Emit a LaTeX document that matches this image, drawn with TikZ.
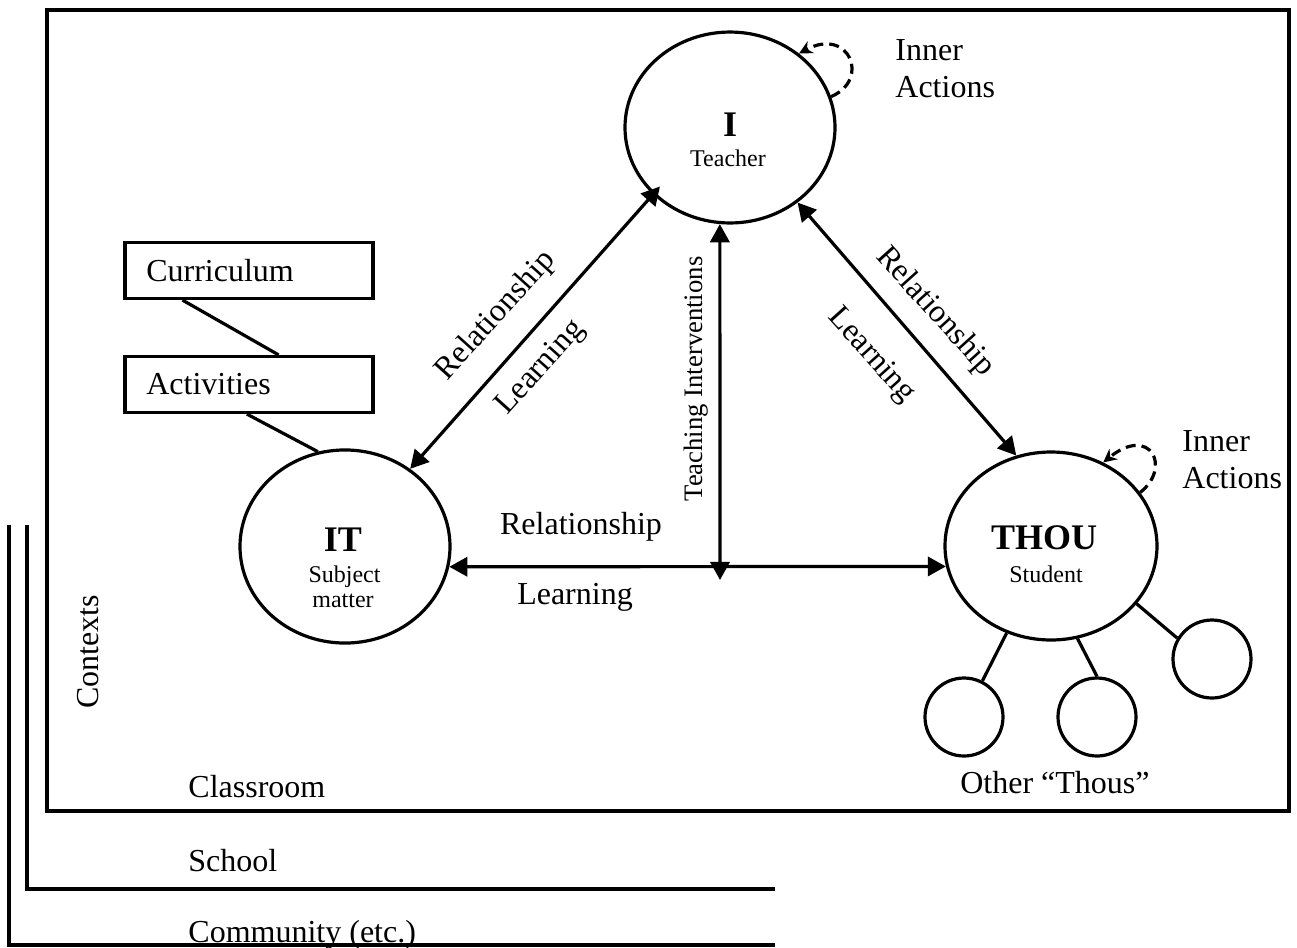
\documentclass[tikz,border=0pt]{standalone}
\usepackage{fontspec}
\setmainfont{Liberation Serif}
\usetikzlibrary{arrows.meta,shapes.geometric}
\tikzset{
  actor/.style={ellipse, draw, line width=1.2pt, inner sep=0pt},
  otherthou/.style={circle, draw, line width=1.2pt, minimum size=29.25pt, inner sep=0pt},
  ctxbox/.style={draw, line width=1.2pt, minimum height=21pt, text width=77pt, inner xsep=8pt, align=left},
  arr/.style={{Triangle[length=6.8pt,width=7.2pt]}-{Triangle[length=6.8pt,width=7.2pt]}, line width=1.2pt},
  selfarr/.style={-{Stealth[length=5pt,width=5pt]}, dash pattern=on 3.75pt off 2.25pt, line width=1.2pt},
  lbl/.style={font=\fontsize{12}{14}\selectfont},
  namelbl/.style={font=\fontsize{13.5}{15}\selectfont\bfseries},
  sublbl/.style={font=\fontsize{9}{10}\selectfont}
}
\begin{document}
\begin{tikzpicture}[x=0.375pt,y=-0.375pt]
\useasboundingbox (0,0) rectangle (1297,947);
% contexts
\draw[line width=1.2pt] (47,10) rectangle (1289,811);
\draw[line width=1.2pt] (27,525) -- (27,889) -- (775,889);
\draw[line width=1.2pt] (9,525) -- (9,945) -- (775,945);
\node[lbl,rotate=90] (contexts) at (88,652) {Contexts};
\node[lbl,anchor=base west] (classroom) at (179,797) {Classroom};
\node[lbl,anchor=base west] (school) at (179,871) {School};
\node[lbl,anchor=base west] (community) at (179,942) {Community (etc.)};
% curriculum boxes
\node[ctxbox,lbl] (curriculum) at (249,270.5) {Curriculum};
\node[ctxbox,lbl] (activities) at (249,384.5) {Activities};
% I, IT, THOU
\node[actor,minimum width=78.75pt,minimum height=71.6pt] (teacher) at (730,127.5) {};
\node[actor,minimum width=78.75pt,minimum height=72.4pt] (it) at (345,546.5) {};
\node[actor,minimum width=79.5pt,minimum height=70.5pt] (thou) at (1051,546) {};
\node[namelbl] (iname) at (730,124.5) {I};
\node[sublbl] (isub) at (728,158) {Teacher};
\node[namelbl] (itname) at (343,540) {IT};
\node[sublbl] (itsub1) at (344.5,577) {Subject};
\node[sublbl] (itsub2) at (343,601) {matter};
\node[namelbl] (thouname) at (1044,537.5) {THOU};
\node[sublbl] (thousub) at (1046,574) {Student};
% other thous
\node[otherthou] (other1) at (964,717) {};
\node[otherthou] (other2) at (1097,717) {};
\node[otherthou] (other3) at (1212,659) {};
\draw[line width=1.2pt] (other1.63) -- (thou.243);
\draw[line width=1.2pt] (other2.north) -- (thou.-74);
\draw[line width=1.2pt] (other3.149) -- (thou.-34);
\node[lbl,anchor=base] (others) at (1055,793) {Other “Thous”};
% links
\draw[line width=1.2pt] (curriculum.204) -- (activities.45);
\draw[line width=1.2pt] (activities.266) -- (it.106);
\coordinate (hub) at (720,580);
\draw[arr,shorten <=-4pt] (teacher.221) -- (it.50);
\draw[arr] (teacher.-48) -- (thou.111);
\draw[arr] (teacher.264) -- (hub);
\draw[arr] (it.-11) -- (thou.191);
% inner actions
\draw[selfarr] (teacher.17) .. controls +(40,-17) and +(50,-27) .. (teacher.47);
\draw[selfarr] (thou.31) .. controls +(32,-25) and +(47,-38) .. (thou.58);
\node[lbl,align=left,anchor=west] (inner1) at (886,69) {Inner\\Actions};
\node[lbl,align=left,anchor=west] (inner2) at (1173,460) {Inner\\Actions};
% labels
\node[lbl,rotate=48] (relleft) at (496,316) {Relationship};
\node[lbl,rotate=48] (learnleft) at (541,368) {Learning};
\node[lbl,rotate=-48] (relright) at (935,312) {Relationship};
\node[lbl,rotate=-48] (learnright) at (871,356) {Learning};
\node[font=\fontsize{10}{12}\selectfont,rotate=90] (teachint) at (696,379) {Teaching Interventions};
\node[lbl] (relmid) at (581,527) {Relationship};
\node[lbl] (learnmid) at (575,597) {Learning};
\end{tikzpicture}
\end{document}
